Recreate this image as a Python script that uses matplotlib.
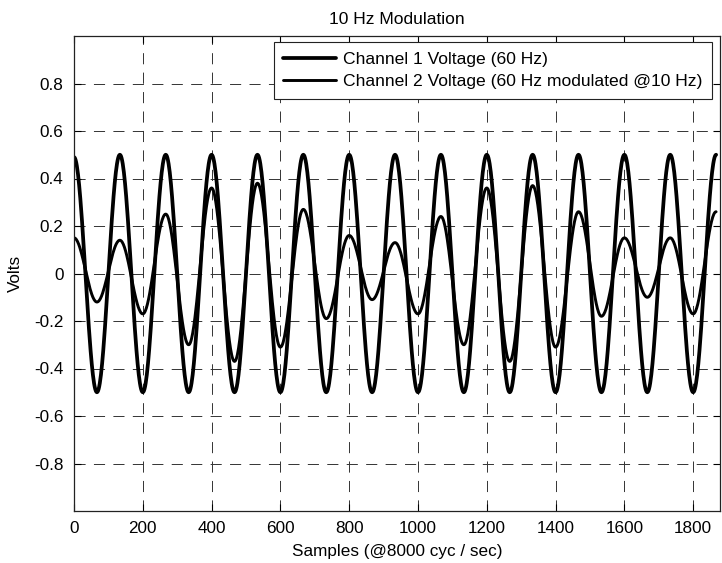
import numpy as np
import matplotlib
matplotlib.use("Agg")
import matplotlib.pyplot as plt

# ---- data ----
# sample rate and carrier frequency (from the axis label / legend)
sample_rate = 8000
carrier_hz = 60
# successive extreme values (peak, trough, peak, ...) of each trace,
# one every half carrier period starting at sample 0
ch1_extrema = [0.49, -0.50, 0.50, -0.50, 0.50, -0.50, 0.50, -0.50, 0.50, -0.50,
               0.50, -0.50, 0.50, -0.50, 0.50, -0.50, 0.50, -0.50, 0.50, -0.50,
               0.50, -0.50, 0.50, -0.50, 0.50, -0.50, 0.50, -0.50, 0.50]
ch2_extrema = [0.15, -0.12, 0.14, -0.17, 0.25, -0.30, 0.36, -0.37, 0.38, -0.31,
               0.27, -0.19, 0.16, -0.11, 0.13, -0.17, 0.24, -0.30, 0.36, -0.37,
               0.37, -0.31, 0.26, -0.18, 0.15, -0.10, 0.15, -0.17, 0.26]
series_labels = ["Channel 1 Voltage (60 Hz)",
                 "Channel 2 Voltage (60 Hz modulated @10 Hz)"]
x_ticks = [0, 200, 400, 600, 800, 1000, 1200, 1400, 1600, 1800]
y_ticks = [-0.8, -0.6, -0.4, -0.2, 0, 0.2, 0.4, 0.6, 0.8]
y_tick_labels = ["-0.8", "-0.6", "-0.4", "-0.2", "0", "0.2", "0.4", "0.6", "0.8"]


def trace(extrema):
    """Smooth half-wave segments joining the read extreme points."""
    half = sample_rate / carrier_hz / 2.0
    xs, ys = [], []
    for k in range(len(extrema) - 1):
        t = np.linspace(0, 1, 40, endpoint=False)
        xs.append(k * half + t * half)
        ys.append(extrema[k] + (extrema[k + 1] - extrema[k]) * (1 - np.cos(np.pi * t)) / 2)
    xs.append([(len(extrema) - 1) * half])
    ys.append([extrema[-1]])
    return np.concatenate(xs), np.concatenate(ys)


plt.rcParams['font.family'] = ['Liberation Sans', 'DejaVu Sans']
plt.rcParams['lines.scale_dashes'] = False

W, H = 722, 563
fig = plt.figure(figsize=(W / 100, H / 100), dpi=100)
left, right, top, bottom = 74, 720, 36, 511
ax = fig.add_axes([left / W, 1 - bottom / H, (right - left) / W, (bottom - top) / H])

x1, y1 = trace(ch1_extrema)
x2, y2 = trace(ch2_extrema)
ax.plot(x1, y1, color='black', lw=2.7, label=series_labels[0], solid_capstyle='round')
ax.plot(x2, y2, color='black', lw=2.1, label=series_labels[1], solid_capstyle='round')

ax.set_xlim(0, 1878)
ax.set_ylim(-1, 1)
ax.set_xticks(x_ticks)
ax.set_yticks(y_ticks)
ax.set_yticklabels(y_tick_labels)
ax.tick_params(direction='in', length=5, width=0.8, top=True, right=True,
               labelsize=12.3, pad=7.5, colors='black')
ax.grid(True, color='#333333', lw=0.7, linestyle=(0, (8, 6)))
for s in ax.spines.values():
    s.set_linewidth(0.9)
    s.set_color('#222222')

ax.set_title("10 Hz Modulation", fontsize=12.5, pad=9)
ax.set_xlabel("Samples (@8000 cyc / sec)", fontsize=12.3, labelpad=5.5)
ax.set_ylabel("Volts", fontsize=12.3, labelpad=8)

leg = ax.legend(loc='upper right', bbox_to_anchor=(0.9876, 0.987), fontsize=12.6,
                frameon=True, fancybox=False, framealpha=1, edgecolor='#222222',
                handlelength=3.0, handletextpad=0.4, borderpad=0.55,
                labelspacing=0.4, borderaxespad=0)
leg.get_frame().set_linewidth(0.8)

fig.savefig("out.png", dpi=100)
